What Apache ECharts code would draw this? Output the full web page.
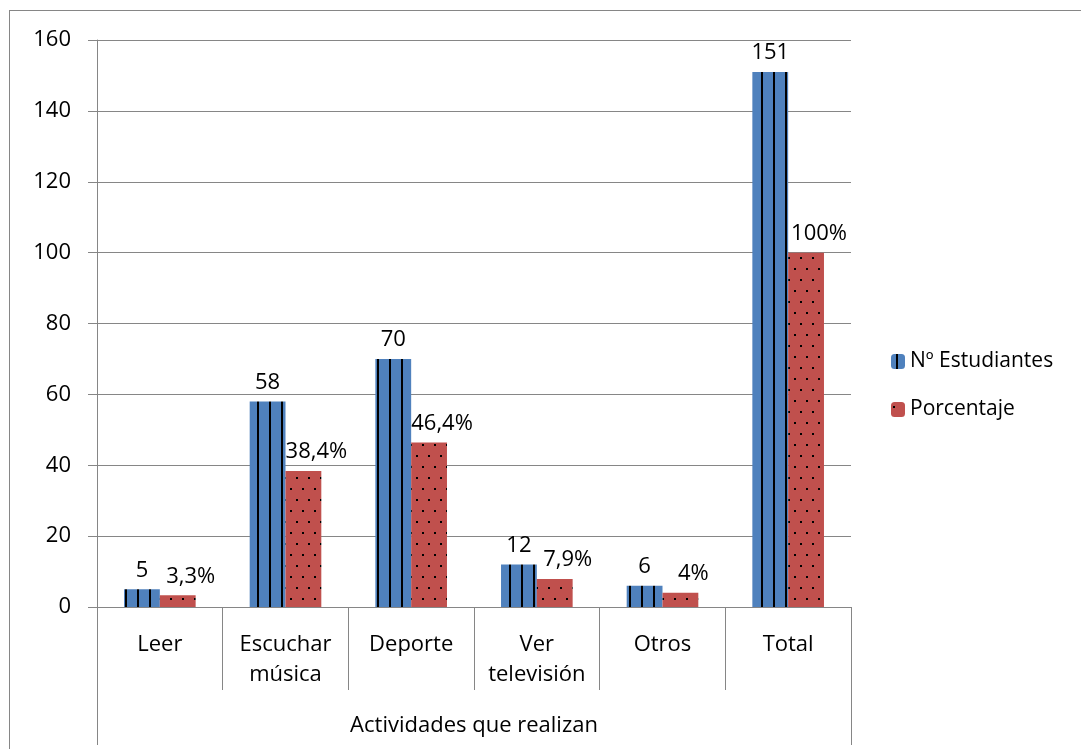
<!DOCTYPE html>
<html>
<head>
<meta charset="utf-8">
<script src="https://cdn.jsdelivr.net/npm/echarts@6/dist/echarts.min.js"></script>
<style>
  html, body { margin: 0; padding: 0; background: #fff; }
  #frame { position: absolute; left: 9px; top: 10px; width: 1100px; height: 760px;
           border-left: 1px solid #868686; border-top: 1px solid #868686; }
  #chart { position: absolute; left: 0; top: 0; width: 1081px; height: 749px; }
</style>
</head>
<body>
<div id="frame"></div>
<div id="chart"></div>
<script>
const categories = ['Leer', 'Escuchar\nmúsica', 'Deporte', 'Ver\ntelevisión', 'Otros', 'Total']
const groupLabel = ['Actividades que realizan']
const students = [5, 58, 70, 12, 6, 151]
const percent = [3.3, 38.4, 46.4, 7.9, 4, 100]
const percentLabels = ['3,3%', '38,4%', '46,4%', '7,9%', '4%', '100%']
const yTicks = { min: 0, max: 160, interval: 20 }

const FONT = 'Open Sans'
const FS = 22
const GRAY = '#868686'

// striped fill for the blue bars
function stripePattern() {
  const c = document.createElement('canvas')
  c.width = 12
  c.height = 4
  const ctx = c.getContext('2d')
  ctx.fillStyle = '#4F81BD'
  ctx.fillRect(0, 0, 12, 4)
  ctx.fillStyle = '#000'
  ctx.fillRect(5, 0, 2, 4)
  return c
}

// dotted fill for the red bars
function dotPattern() {
  const c = document.createElement('canvas')
  c.width = 12
  c.height = 22
  const ctx = c.getContext('2d')
  ctx.fillStyle = '#C0504D'
  ctx.fillRect(0, 0, 12, 22)
  ctx.fillStyle = '#000'
  ctx.fillRect(2, 4, 2, 2)
  ctx.fillRect(8, 15, 2, 2)
  return c
}

const chart = echarts.init(document.getElementById('chart'))

const option = {
  animation: false,
  textStyle: { fontFamily: FONT },
  grid: { left: 97, right: 230, top: 40, bottom: 142 },
  legend: {
    orient: 'vertical',
    left: 886,
    top: 346,
    itemWidth: 14,
    itemHeight: 15,
    itemGap: 27,
    textStyle: { fontFamily: FONT, fontSize: FS - 1, color: '#000' },
    data: ['Nº Estudiantes', 'Porcentaje']
  },
  xAxis: [
    {
      type: 'category',
      data: categories,
      axisLine: { lineStyle: { color: GRAY } },
      axisTick: { show: true, interval: 0, length: 83, lineStyle: { color: GRAY } },
      axisLabel: {
        interval: 0,
        margin: 23,
        color: '#000',
        fontFamily: FONT,
        fontSize: FS,
        lineHeight: 30
      }
    },
    {
      type: 'category',
      position: 'bottom',
      offset: 83,
      data: groupLabel,
      axisLine: { show: false },
      axisTick: { show: true, interval: 0, length: 55, lineStyle: { color: GRAY } },
      axisLabel: { margin: 25, color: '#000', fontFamily: FONT, fontSize: FS }
    }
  ],
  yAxis: {
    type: 'value',
    min: yTicks.min,
    max: yTicks.max,
    interval: yTicks.interval,
    axisLine: { show: true, lineStyle: { color: GRAY } },
    axisTick: { show: true, length: 9, lineStyle: { color: GRAY } },
    axisLabel: { margin: 26, color: '#000', fontFamily: FONT, fontSize: FS },
    splitLine: { lineStyle: { color: GRAY } }
  },
  series: [
    {
      name: 'Nº Estudiantes',
      type: 'bar',
      data: students,
      barGap: '0%',
      barCategoryGap: '43%',
      itemStyle: { color: { image: stripePattern(), repeat: 'repeat' } },
      label: {
        show: true,
        position: 'top',
        distance: 8,
        color: '#000',
        fontFamily: FONT,
        fontSize: FS
      }
    },
    {
      name: 'Porcentaje',
      type: 'bar',
      data: percent,
      itemStyle: { color: { image: dotPattern(), repeat: 'repeat' } },
      label: {
        show: true,
        position: 'top',
        distance: 8,
        offset: [13, 0],
        color: '#000',
        fontFamily: FONT,
        fontSize: FS,
        formatter: (p) => percentLabels[p.dataIndex]
      }
    }
  ]
}

chart.setOption(option)
</script>
</body>
</html>
